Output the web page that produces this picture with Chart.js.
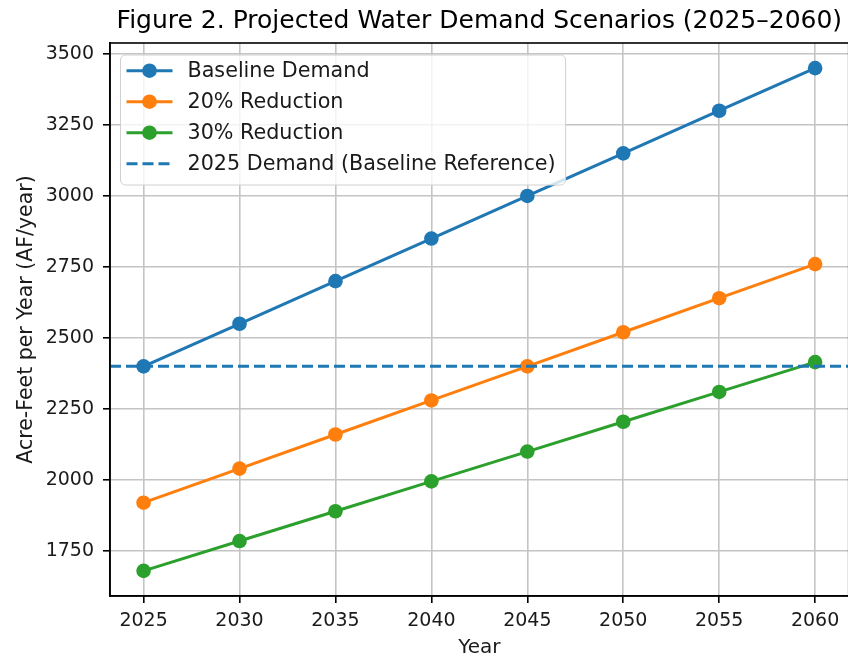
<!DOCTYPE html>
<html>
<head>
<meta charset="utf-8">
<title>Projected Water Demand Scenarios</title>
<script src="https://cdn.jsdelivr.net/npm/chart.js@4.4.1/dist/chart.umd.min.js"></script>
<style>
  html, body { margin: 0; padding: 0; background: #fff; overflow: hidden; }
  #wrap { width: 848px; height: 660px; overflow: hidden; }
  #wrap canvas { display: block; }
</style>
</head>
<body>
<div id="wrap"><canvas id="demandChart" width="856" height="660"></canvas></div>
<script>
// Demand scenarios (AF/year)
var years = [2025, 2030, 2035, 2040, 2045, 2050, 2055, 2060];
var baselineDemand = [2400, 2550, 2700, 2850, 3000, 3150, 3300, 3450];
var reduction20 = [1920, 2040, 2160, 2280, 2400, 2520, 2640, 2760];
var reduction30 = [1680, 1785, 1890, 1995, 2100, 2205, 2310, 2415];
var referenceDemand = 2400;
var yTickValues = [1750, 2000, 2250, 2500, 2750, 3000, 3250, 3500];
var seriesLabels = ["Baseline Demand", "20% Reduction", "30% Reduction", "2025 Demand (Baseline Reference)"];
var chartTitle = "Figure 2. Projected Water Demand Scenarios (2025\u20132060)";

var FONT = "'DejaVu Sans', 'Liberation Sans', sans-serif";

// 5% margins like the original plot
var xPad = (years[years.length - 1] - years[0]) * 0.05;
var xMin = years[0] - xPad, xMax = years[years.length - 1] + xPad;
var allVals = baselineDemand.concat(reduction20, reduction30);
var yLo = Math.min.apply(null, allVals), yHi = Math.max.apply(null, allVals);
var yPad = (yHi - yLo) * 0.05;
var yMin = yLo - yPad, yMax = yHi + yPad;

function toPoints(vals) {
  return years.map(function (yr, i) { return { x: yr, y: vals[i] }; });
}

function lineSet(label, vals, color, order) {
  return {
    label: label,
    data: toPoints(vals),
    borderColor: color,
    backgroundColor: color,
    borderWidth: 3,
    pointRadius: 7.3,
    pointBorderWidth: 0,
    pointBackgroundColor: color,
    tension: 0,
    order: order
  };
}

// Title centred over the plot area, top/right spines
var framePlugin = {
  id: "frame",
  afterDatasetsDraw: function (chart) {
    var a = chart.chartArea, ctx = chart.ctx;
    ctx.save();
    ctx.strokeStyle = "#000";
    ctx.lineWidth = 1.6;
    ctx.strokeRect(a.left, a.top, a.right - a.left, a.bottom - a.top);
    ctx.fillStyle = "#000";
    ctx.font = "25px " + FONT;
    ctx.textAlign = "center";
    ctx.textBaseline = "middle";
    ctx.fillText(chartTitle, (a.left + a.right) / 2, 21.2);
    ctx.restore();
  }
};

// Legend box in the upper left, line + marker handles
var boxLegend = {
  id: "boxLegend",
  afterDraw: function (chart) {
    var ctx = chart.ctx, a = chart.chartArea;
    var sets = chart.data.datasets;
    ctx.save();
    ctx.font = "20.7px " + FONT;
    var maxW = 0;
    sets.forEach(function (ds) { maxW = Math.max(maxW, ctx.measureText(ds.label).width); });
    var x0 = a.left + 10.5, y0 = a.top + 12;
    var rowH = 31;
    var w = 67 + maxW + 10, h = 130;
    ctx.beginPath();
    ctx.roundRect(x0, y0, w, h, 5);
    ctx.fillStyle = "rgba(255,255,255,0.8)";
    ctx.fill();
    ctx.strokeStyle = "#d0d0d0";
    ctx.lineWidth = 1;
    ctx.stroke();
    sets.forEach(function (ds, i) {
      var cy = y0 + 15.7 + i * rowH;
      ctx.strokeStyle = ds.borderColor;
      ctx.lineWidth = 3;
      ctx.setLineDash(ds.borderDash || []);
      ctx.beginPath();
      ctx.moveTo(x0 + 6, cy);
      ctx.lineTo(x0 + 52, cy);
      ctx.stroke();
      ctx.setLineDash([]);
      if (ds.pointRadius > 0) {
        ctx.fillStyle = ds.borderColor;
        ctx.beginPath();
        ctx.arc(x0 + 29, cy, ds.pointRadius, 0, Math.PI * 2);
        ctx.fill();
      }
      ctx.fillStyle = "#1a1a1a";
      ctx.textBaseline = "middle";
      ctx.textAlign = "left";
      ctx.fillText(ds.label, x0 + 67, cy + 1.3);
    });
    ctx.restore();
  }
};

var ctx = document.getElementById("demandChart");
var chart = new Chart(ctx, {
  type: "line",
  data: {
    datasets: [
      lineSet(seriesLabels[0], baselineDemand, "#1f77b4", 4),
      lineSet(seriesLabels[1], reduction20, "#ff7f0e", 3),
      lineSet(seriesLabels[2], reduction30, "#2ca02c", 2),
      {
        label: seriesLabels[3],
        data: [{ x: xMin, y: referenceDemand }, { x: xMax, y: referenceDemand }],
        borderColor: "#1f77b4",
        borderWidth: 3,
        borderDash: [11, 5],
        pointRadius: 0,
        order: 1
      }
    ]
  },
  options: {
    responsive: false,
    animation: false,
    devicePixelRatio: 1,
    layout: { padding: { top: 43, right: 3, bottom: 0, left: 0 } },
    plugins: {
      legend: { display: false },
      tooltip: { enabled: false },
      title: { display: false }
    },
    scales: {
      x: {
        type: "linear",
        min: xMin,
        max: xMax,
        afterBuildTicks: function (scale) {
          scale.ticks = years.map(function (v) { return { value: v }; });
        },
        afterFit: function (scale) { scale.height = 64; },
        ticks: {
          color: "#1a1a1a",
          font: { family: FONT, size: 19 },
          padding: 7,
          maxRotation: 0,
          callback: function (v) { return String(v); }
        },
        grid: { color: "#c4c4c4", lineWidth: 1.6, tickLength: 7, tickColor: "#000", tickWidth: 1.6 },
        border: { display: true, color: "#000", width: 1.6 },
        title: {
          display: true,
          text: "Year",
          color: "#1a1a1a",
          font: { family: FONT, size: 20 },
          padding: { top: 0, bottom: 0 }
        }
      },
      y: {
        type: "linear",
        min: yMin,
        max: yMax,
        afterBuildTicks: function (scale) {
          scale.ticks = yTickValues.map(function (v) { return { value: v }; });
        },
        afterFit: function (scale) { scale.width = 110; },
        ticks: {
          color: "#1a1a1a",
          font: { family: FONT, size: 19 },
          padding: 9,
          callback: function (v) { return String(v); }
        },
        grid: { color: "#c4c4c4", lineWidth: 1.6, tickLength: 7, tickColor: "#000", tickWidth: 1.6 },
        border: { display: true, color: "#000", width: 1.6 },
        title: {
          display: true,
          text: "Acre-Feet per Year (AF/year)",
          color: "#1a1a1a",
          font: { family: FONT, size: 20.5 },
          padding: { top: 14, bottom: 0 }
        }
      }
    }
  },
  plugins: [framePlugin, boxLegend]
});
</script>
</body>
</html>
